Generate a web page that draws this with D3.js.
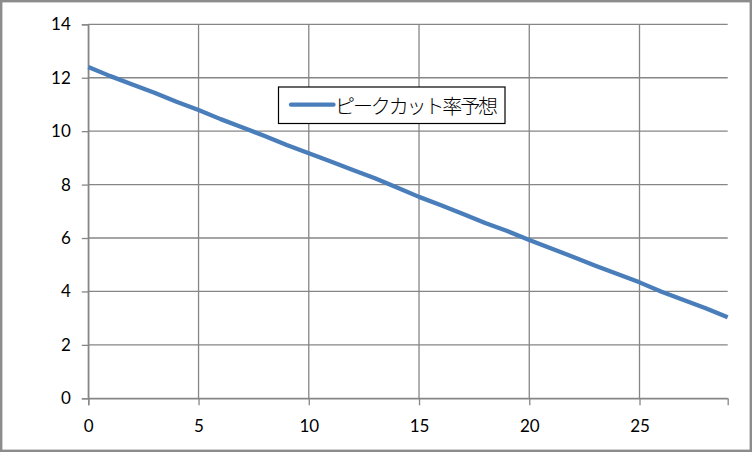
<!DOCTYPE html>
<html>
<head>
<meta charset="utf-8">
<script src="https://cdn.jsdelivr.net/npm/d3@7"></script>
<style>
  html, body { margin: 0; padding: 0; background: #fff; }
  svg { display: block; }
  .tick text { font-family: Lato, "Open Sans", sans-serif; font-size: 17px; fill: #000; }
  .legend-text { font-family: "Noto Sans CJK JP", sans-serif; font-size: 20px; font-weight: 300; fill: #000; }
</style>
</head>
<body>
<svg id="chart" width="752" height="452"></svg>
<script>
  // ---------------------------------------------------------------------------
  // Data
  // ---------------------------------------------------------------------------

  const SERIES_NAME = "ピークカット率予想";
  const xValues = [0, 1, 2, 3, 4, 5, 6, 7, 8, 9, 10, 11, 12, 13, 14, 15, 16, 17, 18, 19, 20, 21, 22, 23, 24, 25, 26, 27, 28, 29];
  const yValues = [12.4, 12.06, 11.75, 11.44, 11.1, 10.79, 10.45, 10.14, 9.82, 9.48, 9.17, 8.86, 8.55, 8.24, 7.89, 7.54, 7.23, 6.9, 6.56, 6.26, 5.93, 5.61, 5.29, 4.96, 4.65, 4.34, 3.99, 3.68, 3.37, 3.03];
  const xTicks = [0, 5, 10, 15, 20, 25];
  const yTicks = [0, 2, 4, 6, 8, 10, 12, 14];

  // ---------------------------------------------------------------------------
  // Layout
  // ---------------------------------------------------------------------------

  const GRID = "#868686";
  const LINE = "#4a7ebb";

  const svg = d3.select("#chart");

  // outer frame
  svg.append("rect")
    .attr("x", 1.2).attr("y", 1.2)
    .attr("width", 749.6).attr("height", 449.6)
    .attr("fill", "#fff")
    .attr("stroke", "#8c8c8c")
    .attr("stroke-width", 2.4);

  const x = d3.scaleLinear().domain([0, 29]).range([88.3, 727.7]);
  const y = d3.scaleLinear().domain([0, 14]).range([398.3, 24.3]);

  // gridlines
  const grid = svg.append("g").attr("stroke", GRID).attr("stroke-width", 1.3);
  grid.selectAll("line.h")
    .data(yTicks)
    .join("line")
    .attr("class", "h")
    .attr("x1", x(0)).attr("x2", x(29))
    .attr("y1", (d) => y(d)).attr("y2", (d) => y(d));
  grid.selectAll("line.v")
    .data(xTicks)
    .join("line")
    .attr("class", "v")
    .attr("x1", (d) => x(d)).attr("x2", (d) => x(d))
    .attr("y1", y(0)).attr("y2", y(14));

  // axes
  const yAxis = svg.append("g")
    .attr("transform", `translate(${x(0)},0)`)
    .call(d3.axisLeft(y).tickValues(yTicks).tickSize(6.5).tickPadding(11));
  const xAxis = svg.append("g")
    .attr("transform", `translate(0,${y(0)})`)
    .call(d3.axisBottom(x).tickValues(xTicks).tickSize(7).tickPadding(11));

  [yAxis, xAxis].forEach((a) => {
    a.select(".domain").attr("stroke", GRID).attr("stroke-width", 1.3);
    a.selectAll(".tick line").attr("stroke", GRID).attr("stroke-width", 1.3);
  });
  xAxis.selectAll(".tick text").attr("dy", "0.9em");

  // series line
  const line = d3.line()
    .x((d, i) => x(xValues[i]))
    .y((d) => y(d));

  svg.append("path")
    .datum(yValues)
    .attr("fill", "none")
    .attr("stroke", LINE)
    .attr("stroke-width", 4.3)
    .attr("stroke-linejoin", "round")
    .attr("d", line);

  // legend
  const legend = svg.append("g").attr("transform", "translate(278.5,87)");
  legend.append("rect")
    .attr("width", 226.5).attr("height", 36.5)
    .attr("fill", "#fff")
    .attr("stroke", "#000")
    .attr("stroke-width", 1.2);
  legend.append("line")
    .attr("x1", 12.5).attr("x2", 55)
    .attr("y1", 17.7).attr("y2", 17.7)
    .attr("stroke", LINE)
    .attr("stroke-width", 4.3)
    .attr("stroke-linecap", "round");
  legend.append("text")
    .attr("class", "legend-text")
    .attr("x", 56.5)
    .attr("y", 18)
    .attr("dominant-baseline", "central")
    .attr("textLength", 163)
    .text(SERIES_NAME);
</script>
</body>
</html>
